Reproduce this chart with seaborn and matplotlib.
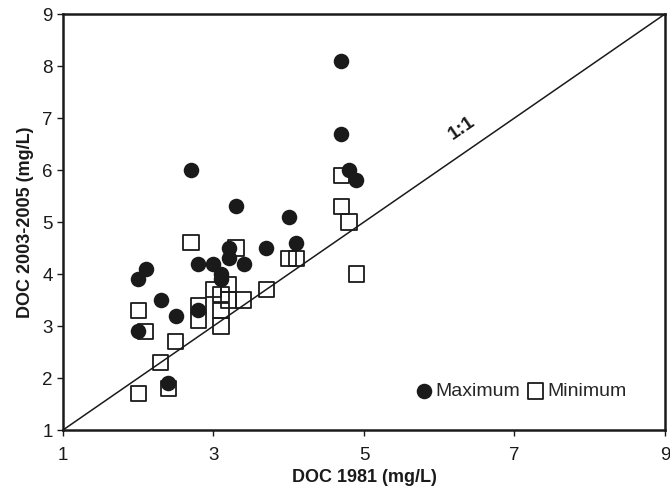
import pandas as pd
import numpy as np
import seaborn as sns
import matplotlib.pyplot as plt

# DOC values (mg/L)
max_1981 = [2.0, 2.1, 2.0, 2.3, 2.5, 2.4, 2.7, 2.8, 2.8, 3.0, 3.1, 3.1,
            3.2, 3.2, 3.3, 3.4, 3.7, 4.0, 4.1, 4.7, 4.7, 4.8, 4.9]
max_2003 = [3.9, 4.1, 2.9, 3.5, 3.2, 1.9, 6.0, 4.2, 3.3, 4.2, 4.0, 3.9,
            4.5, 4.3, 5.3, 4.2, 4.5, 5.1, 4.6, 8.1, 6.7, 6.0, 5.8]
min_1981 = [2.0, 2.1, 2.0, 2.3, 2.5, 2.4, 2.7, 2.8, 2.8, 3.0, 3.1, 3.1,
            3.1, 3.2, 3.2, 3.3, 3.4, 3.7, 4.0, 4.1, 4.7, 4.7, 4.8, 4.9]
min_2003 = [3.3, 2.9, 1.7, 2.3, 2.7, 1.8, 4.6, 3.4, 3.1, 3.7, 3.6, 3.3,
            3.0, 3.8, 3.5, 4.5, 3.5, 3.7, 4.3, 4.3, 5.9, 5.3, 5.0, 4.0]

x_ticks = [1, 3, 5, 7, 9]
y_ticks = [1, 2, 3, 4, 5, 6, 7, 8, 9]

sns.set_style("white")
plt.rcParams['font.family'] = ['Liberation Sans', 'DejaVu Sans']

df_max = pd.DataFrame({'doc1981': max_1981, 'doc2003': max_2003})
df_min = pd.DataFrame({'doc1981': min_1981, 'doc2003': min_2003})

fig = plt.figure(figsize=(6.7, 4.92), dpi=100)
ax = fig.add_axes([0.094, 0.126, 0.8985, 0.8455])

# 1:1 line
ax.plot([1, 9], [1, 9], color='#1a1a1a', linewidth=1.1, zorder=1)
ax.text(6.3, 6.8, '1:1', rotation=34.6, fontsize=14, fontweight='bold',
        ha='center', va='center', color='#1a1a1a')

sns.scatterplot(data=df_max, x='doc1981', y='doc2003', ax=ax, marker='o',
                color='#1a1a1a', edgecolor='#1a1a1a', s=125, linewidth=0,
                label='Maximum', zorder=3)
sns.scatterplot(data=df_min, x='doc1981', y='doc2003', ax=ax, marker='s',
                facecolor='none', edgecolor='#1a1a1a', s=120, linewidth=1.3,
                label='Minimum', zorder=2)

ax.set_xlim(1, 9)
ax.set_ylim(1, 9)
ax.set_xticks(x_ticks)
ax.set_yticks(y_ticks)
ax.tick_params(axis='both', direction='out', length=4, width=1, color='#1a1a1a',
               labelsize=13.5, labelcolor='#1a1a1a', bottom=True, left=True)
ax.tick_params(axis='x', pad=8)
for sp in ax.spines.values():
    sp.set_linewidth(1.8)
    sp.set_color('#1a1a1a')

ax.set_xlabel('DOC 1981 (mg/L)', fontsize=13, fontweight='bold', color='#1a1a1a', labelpad=4)
ax.set_ylabel('DOC 2003-2005 (mg/L)', fontsize=13, fontweight='bold', color='#1a1a1a', labelpad=6)

ax.legend(loc='lower right', bbox_to_anchor=(0.965, 0.03), ncol=2, frameon=False,
          fontsize=14, handletextpad=0.1, columnspacing=0.3, markerscale=1.0,
          handlelength=1.0)

fig.savefig('out.png', dpi=100)
